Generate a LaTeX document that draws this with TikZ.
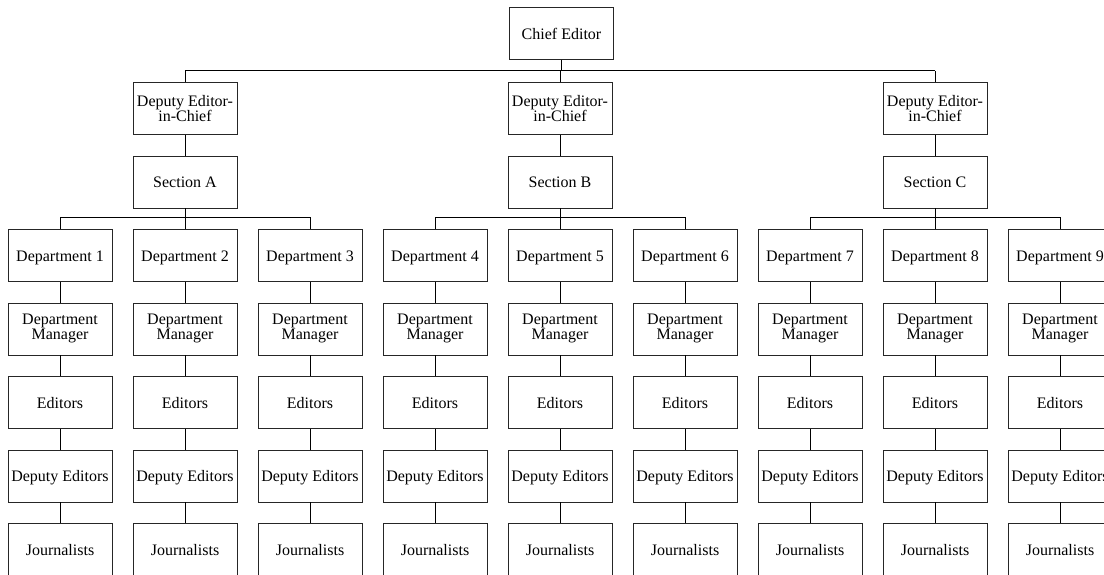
\documentclass[tikz,border=0pt]{standalone}
\usepackage{fontspec}
\setmainfont{Liberation Serif}
\begin{document}
\begin{tikzpicture}[x=1pt,y=-1pt,
  box/.style={draw=black!85, line width=0.9pt, fill=white,
    minimum width=104pt, minimum height=52pt, inner sep=0pt,
    align=center, anchor=north, font=\fontsize{16}{15}\selectfont},
  one/.style={text height=12.5pt, text depth=0.5pt},
  link/.style={draw=black, line width=0.9pt}]
\useasboundingbox (0,0) rectangle (1104,574);
\clip (0,0) rectangle (1104,574);

% top of the chart
\node[box,one] (chief) at (561.5,7) {Chief Editor};
\draw[link] (chief.south) -- ++(0,11) coordinate (topbus);

% deputies and sections
\foreach \k/\lab in {1/A,2/B,3/C} {
  \pgfmathsetmacro\cx{185+375*(\k-1)}
  \node[box] (dep\k) at (\cx,82) {Deputy Editor-\\in-Chief};
  \node[box,one] (sec\k) at (\cx,155.5) {Section \lab};
  \draw[link] (dep\k) -- (sec\k);
  \draw[link] (sec\k.south) -- ++(0,9.5) coordinate (secbus\k);
  \draw[link] (dep\k.north) -- (dep\k.north |- topbus);
}
\draw[link] (dep1.north |- topbus) -- (dep3.north |- topbus);

% departments and their staff columns
\foreach \i in {1,...,9} {
  \pgfmathsetmacro\cx{60+125*(\i-1)}
  \node[box,one] (d\i)  at (\cx,229)   {Department \i};
  \node[box]     (m\i)  at (\cx,302.5) {Department\\Manager};
  \node[box,one] (e\i)  at (\cx,376)   {Editors};
  \node[box,one] (de\i) at (\cx,449.5) {Deputy Editors};
  \node[box,one] (j\i)  at (\cx,523)   {Journalists};
  \draw[link] (d\i) -- (m\i) -- (e\i) -- (de\i) -- (j\i);
}

% section buses down to departments
\foreach \k in {1,2,3} {
  \pgfmathtruncatemacro\a{3*\k-2}
  \pgfmathtruncatemacro\b{3*\k-1}
  \pgfmathtruncatemacro\c{3*\k}
  \draw[link] (d\a.north) |- (secbus\k) -| (d\c.north);
  \draw[link] (d\b.north) -- (d\b.north |- secbus\k);
}
\end{tikzpicture}
\end{document}
